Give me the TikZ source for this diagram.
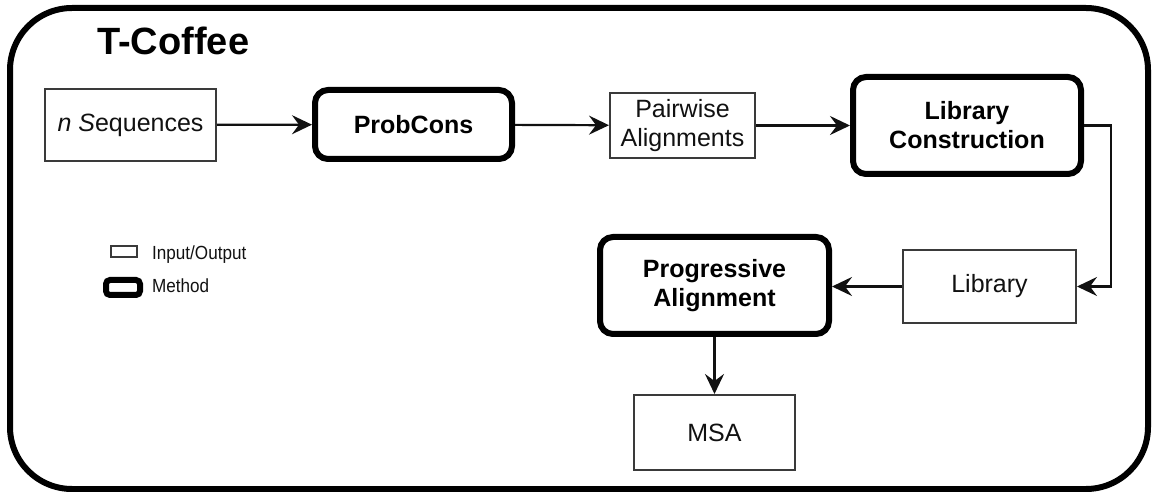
\documentclass[tikz,border=0pt]{standalone}
\usepackage{fontspec}
\setmainfont{Liberation Sans}
\newfontfamily\legendfamily[FakeStretch=0.9]{Liberation Sans}
\usetikzlibrary{arrows.meta}

\newcommand\nodetextfont{\fontsize{25bp}{29bp}\selectfont}
\newcommand\methodtextfont{\fontsize{25bp}{29bp}\selectfont\bfseries}
\newcommand\cofftitlefont{\fontsize{38bp}{44bp}\selectfont\bfseries}
\newcommand\legendtextfont{\legendfamily\fontsize{19bp}{22bp}\selectfont}

\definecolor{iogray}{HTML}{3A3A3A}
\definecolor{inkdark}{HTML}{111111}

\begin{document}
\begin{tikzpicture}[x=1bp,y=-1bp,
  iobox/.style={draw=iogray, line width=2bp, inner sep=0pt, align=center,
    font=\nodetextfont, text=inkdark},
  methodbox/.style={draw=black, line width=6bp, rounded corners=13bp,
    inner sep=0pt, align=center, font=\methodtextfont, text=black},
  flow/.style={draw=inkdark, line width=2.2bp,
    -{Stealth[length=20bp,width=19bp,inset=7bp]}},
  legendtext/.style={anchor=base west, inner sep=0pt, font=\legendtextfont, text=inkdark}]

\useasboundingbox (0,0) rectangle (1152,492);

% outer frame
\draw[line width=6bp, rounded corners=62bp] (10,8) rectangle (1148,489);

% title
\node[anchor=base west, inner sep=0pt, font=\cofftitlefont] (title) at (97,55) {T-Coffee};

% pipeline boxes
\node[iobox, minimum width=171bp, minimum height=72bp] (nseq) at (130.5,125) {{\itshape n S}equences};
\node[methodbox, minimum width=197bp, minimum height=69bp] (probcons) at (413.5,124.5) {ProbCons};
\node[iobox, minimum width=145bp, minimum height=65bp] (pairwise) at (682.5,125.5) {Pairwise\\Alignments};
\node[methodbox, minimum width=228bp, minimum height=97bp] (libcon) at (967,125.5) {Library\\Construction};
\node[iobox, minimum width=173bp, minimum height=73bp] (library) at (989.5,286.5) {Library};
\node[methodbox, minimum width=229bp, minimum height=97bp] (progressive) at (714.5,285.5) {Progressive\\Alignment};
\node[iobox, minimum width=161bp, minimum height=75bp] (msa) at (714.5,432.5) {MSA};

% connectors
\coordinate (bend) at (1111,125.5);
\draw[flow] (nseq) -- (probcons);
\draw[flow] (probcons) -- (pairwise);
\draw[flow] (pairwise) -- (libcon);
\draw[flow] (libcon.east) -- (libcon.east -| bend) |- (library.east);
\draw[flow] (library.west) -- (library.west -| progressive.east);
\draw[flow] (progressive) -- (msa);

% legend
\node[draw=iogray, line width=2bp, inner sep=0pt, minimum width=26bp, minimum height=11bp] (legio) at (124,251.5) {};
\node[draw=black, line width=6bp, rounded corners=4bp, inner sep=0pt, minimum width=34bp, minimum height=15bp] (legmethod) at (123,287.5) {};
\node[legendtext] (legiotext) at (152,260) {Input/Output};
\node[legendtext] (legmethodtext) at (152,293) {Method};

\end{tikzpicture}
\end{document}
